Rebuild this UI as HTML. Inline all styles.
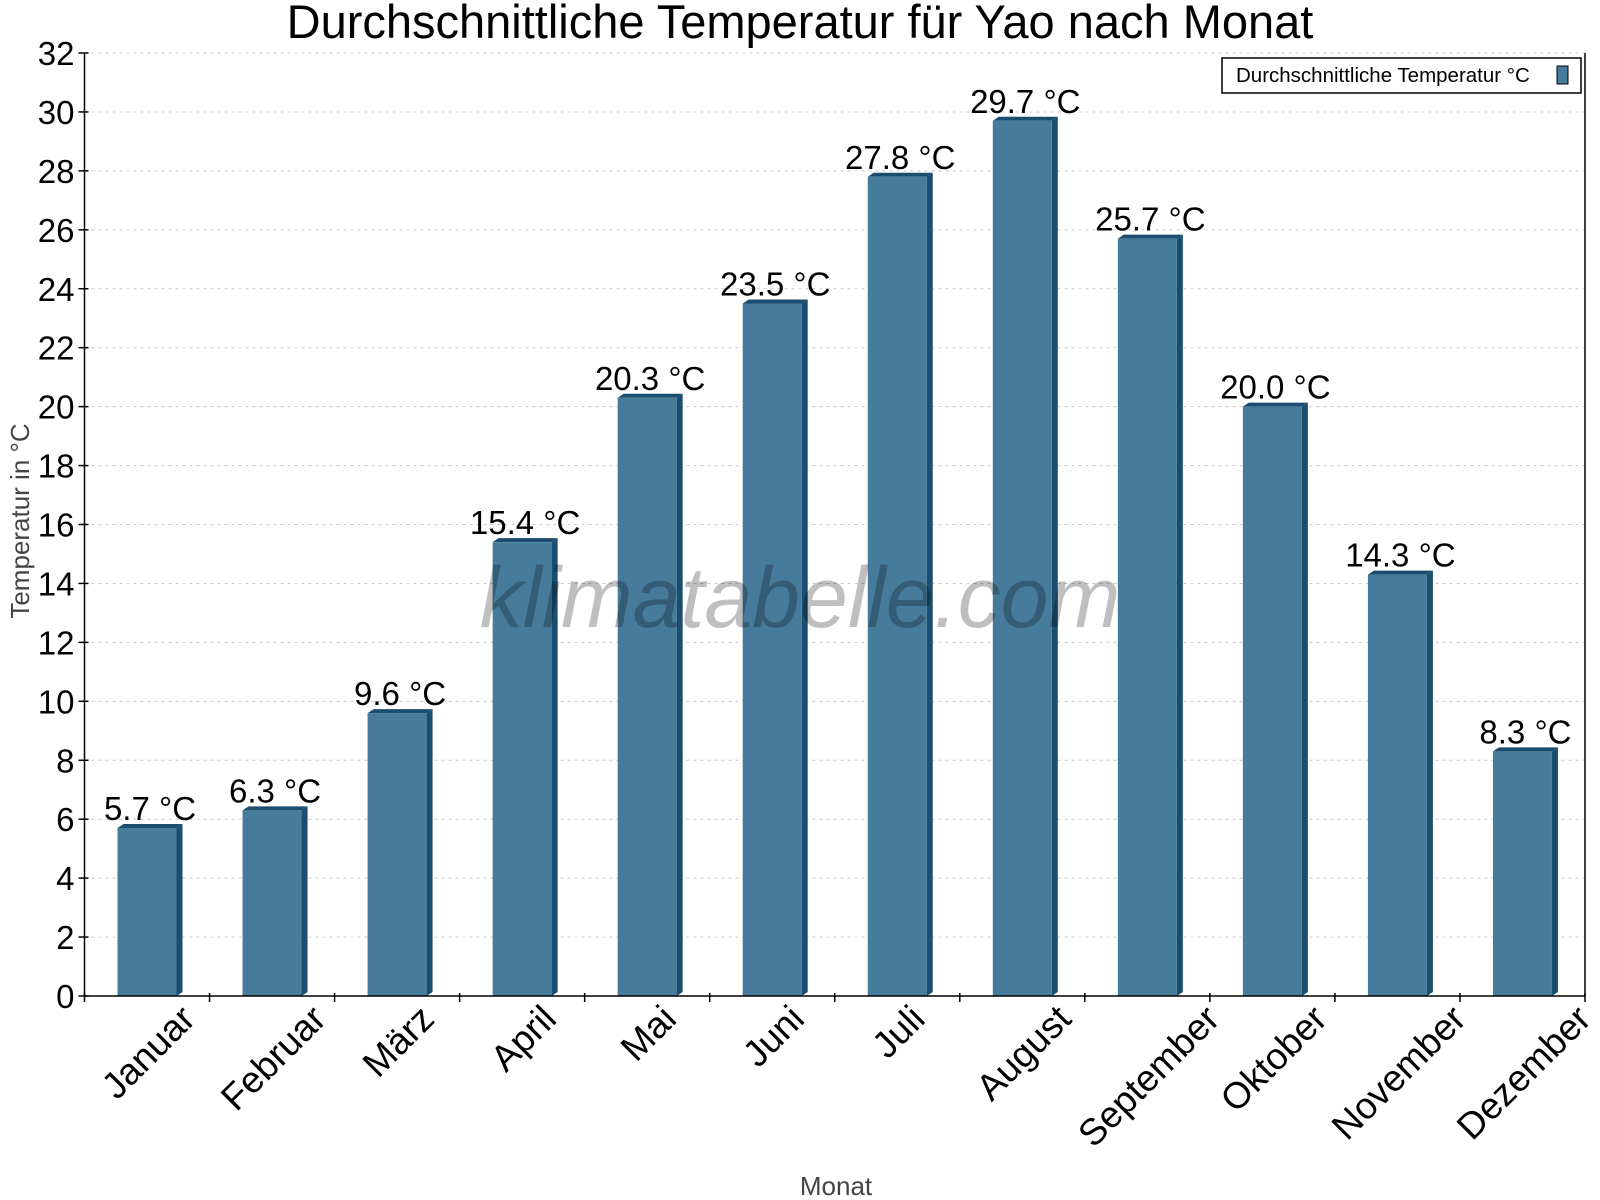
<!DOCTYPE html>
<html><head><meta charset="utf-8"><style>
html,body{margin:0;padding:0;background:#fff;}
svg{display:block;font-family:"Liberation Sans",Arial,sans-serif;}
</style></head><body>
<svg id="chart" width="1600" height="1200">
<text x="800" y="38" font-size="47" text-anchor="middle">Durchschnittliche Temperatur für Yao nach Monat</text>
<g id="grid"></g>
<g id="bars"></g>
<text x="800" y="627" font-size="86" font-style="italic" fill="#000" fill-opacity="0.25" text-anchor="middle">klimatabelle.com</text>
<g id="axes"></g>
<text transform="translate(29,521) rotate(-90)" font-size="26" fill="#444" text-anchor="middle">Temperatur in °C</text>
<text x="836" y="1195" font-size="26" fill="#444" text-anchor="middle">Monat</text>
<g>
<rect x="1222" y="58" width="359" height="35" fill="#fff" stroke="#000" stroke-width="1.5"/>
<text x="1236" y="82" font-size="20.5">Durchschnittliche Temperatur °C</text>
<rect x="1557" y="66" width="11" height="18" fill="#467b9c" stroke="#000" stroke-width="1"/>
</g>
</svg>
<script>
const months=["Januar","Februar","März","April","Mai","Juni","Juli","August","September","Oktober","November","Dezember"];
const temps=[5.7,6.3,9.6,15.4,20.3,23.5,27.8,29.7,25.7,20.0,14.3,8.3];
const yTicks=[0,2,4,6,8,10,12,14,16,18,20,22,24,26,28,30,32];
const NS="http://www.w3.org/2000/svg";
const X0=84.5,X1=1585,Y0=996,Y1=53,YMAX=32;
const bw=(X1-X0)/months.length;
const y=v=>Y0-(v/YMAX)*(Y0-Y1);
const xc=i=>X0+bw*(i+0.5);
function mk(tag,attrs,parent){const e=document.createElementNS(NS,tag);for(const k in attrs)e.setAttribute(k,attrs[k]);parent.appendChild(e);return e;}
const grid=document.getElementById('grid'),bars=document.getElementById('bars'),axes=document.getElementById('axes');
yTicks.forEach(t=>{
  if(t>0){const g=mk('line',{x1:X0,x2:X1,y1:y(t),y2:y(t),stroke:'#c8c8c8','stroke-dasharray':'3,4','stroke-width':1},grid);
  
  }
  const tk=mk('line',{x1:X0-6,x2:X0+4,y1:y(t),y2:y(t),stroke:'#000','stroke-width':1.5},axes);
  
  
  const lb=mk('text',{x:X0-10,y:y(t)+12,'font-size':33,'text-anchor':'end'},axes);
  lb.textContent=t;
  
  
});
const ax=mk('line',{x1:X0,x2:X0,y1:Y1,y2:Y0,stroke:'#000','stroke-width':1.5},axes);


const ax2=mk('line',{x1:X0,x2:X1,y1:Y0,y2:Y0,stroke:'#000','stroke-width':1.5},axes);


const ax3=mk('line',{x1:X1,x2:X1,y1:Y1,y2:Y0,stroke:'#000','stroke-width':1.5},axes);


for(let i=0;i<=months.length;i++){
  const tk=mk('line',{x1:X0+bw*i,x2:X0+bw*i,y1:Y0-3,y2:Y0+6,stroke:'#000','stroke-width':1.5},axes);
  
  
}
temps.forEach((v,i)=>{
  const left=X0+bw*i+33,w=59,d=6,top=y(v);
  const g=mk('g',{},bars);
  
  
  mk('polygon',{points:`${left+w},${top} ${left+w+d},${top-4} ${left+w+d},${Y0-4} ${left+w},${Y0}`,fill:'#1b4d6e'},g);
  mk('polygon',{points:`${left},${top} ${left+d},${top-4} ${left+w+d},${top-4} ${left+w},${top}`,fill:'#1b4d6e'},g);
  mk('rect',{x:left,y:top,width:w,height:Y0-top,fill:'#467b9c'},g);
  const vl=mk('text',{x:left+w/2+3,y:top-8,'font-size':33,'text-anchor':'middle'},bars);
  vl.textContent=v.toFixed(1)+' °C';
  
  
  const ml=mk('text',{x:0,y:0,'font-size':37,'text-anchor':'end'},axes);
  ml.textContent=months[i];
  
  
  const L=ml.getComputedTextLength();
  ml.setAttribute('transform',`translate(${xc(i)+10+L*0.354},${Y0+25}) rotate(-45)`);
});
</script>
</body></html>
